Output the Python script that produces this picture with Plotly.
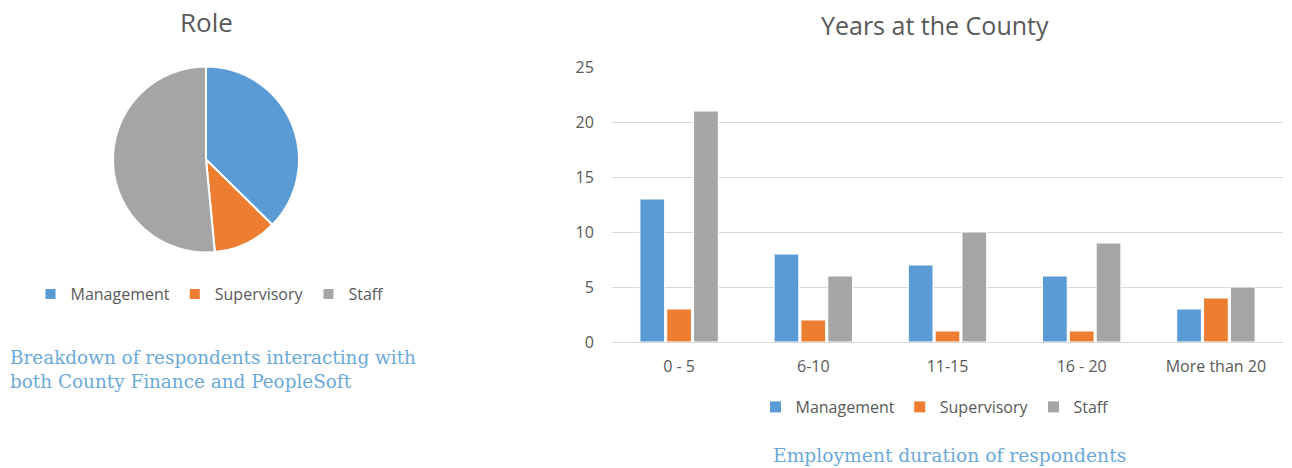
import plotly.graph_objects as go

roles = ["Management", "Supervisory", "Staff"]
role_counts = [37, 11, 51]
colors = ["#5B9BD5", "#ED7D31", "#A5A5A5"]

years = ["0 - 5", "6-10", "11-15", "16 - 20", "More than 20"]
management = [13, 8, 7, 6, 3]
supervisory = [3, 2, 1, 1, 4]
staff = [21, 6, 10, 9, 5]

W, H = 1292, 468
def px(x): return x / W
def py(y): return (H - y) / H

SANS = "'Open Sans', 'DejaVu Sans', sans-serif"
SERIF = "'DejaVu Serif', 'Liberation Serif', serif"
GRAY = "#595959"
CAP = "#6AA9D8"

fig = go.Figure()
fig.add_trace(go.Pie(
    labels=roles, values=role_counts, sort=False, direction="clockwise", rotation=0,
    marker=dict(colors=colors, line=dict(color="white", width=2)),
    textinfo="none", hoverinfo="label+value",
    domain=dict(x=[px(113), px(299)], y=[py(253), py(66)]),
    legend="legend",
))
for name, vals, c in zip(roles, [management, supervisory, staff], colors):
    fig.add_trace(go.Bar(x=years, y=vals, name=name, marker=dict(color=c, line=dict(color="white", width=1)),
                         legend="legend2"))

font_ax = dict(family=SANS, size=16, color=GRAY)
font_lg = dict(family=SANS, size=16, color=GRAY)
fig.update_layout(
    width=W, height=H, margin=dict(l=0, r=0, t=0, b=0, autoexpand=False),
    paper_bgcolor="white", plot_bgcolor="white",
    barmode="group", bargap=0.4, bargroupgap=0.08,
    xaxis=dict(domain=[px(612), px(1283)], showgrid=False, showline=False, ticks="outside",
               ticklen=10, tickcolor="white", tickfont=font_ax, fixedrange=True, automargin=False),
    yaxis=dict(domain=[py(342), py(67)], range=[0, 25], dtick=5, gridcolor="#D9D9D9", gridwidth=1,
               zeroline=True, zerolinecolor="#D9D9D9", zerolinewidth=1, tickfont=font_ax,
               ticks="outside", ticklen=14, tickcolor="white", showline=False, automargin=False,
               fixedrange=True),
    legend=dict(orientation="h", x=px(210), xanchor="center", y=py(294), yanchor="middle",
                font=font_lg, itemwidth=30, bgcolor="rgba(0,0,0,0)"),
    legend2=dict(orientation="h", x=px(935), xanchor="center", y=py(407), yanchor="middle",
                 font=font_lg, itemwidth=30, bgcolor="rgba(0,0,0,0)"),
    annotations=[
        dict(text="Role", x=px(206), y=py(22), xref="paper", yref="paper", showarrow=False,
             xanchor="center", yanchor="middle", font=dict(family=SANS, size=26, color=GRAY)),
        dict(text="Years at the County", x=px(935), y=py(25), xref="paper", yref="paper", showarrow=False,
             xanchor="center", yanchor="middle", font=dict(family=SANS, size=25, color=GRAY)),
        dict(text="Breakdown of respondents interacting with<br>both County Finance and PeopleSoft",
             x=px(8), y=py(369), xref="paper", yref="paper", showarrow=False, align="left",
             xanchor="left", yanchor="middle",
             font=dict(family=SERIF, size=18.4, color=CAP)),
        dict(text="Employment duration of respondents",
             x=px(949), y=py(455), xref="paper", yref="paper", showarrow=False,
             xanchor="center", yanchor="middle",
             font=dict(family=SERIF, size=18.7, color=CAP)),
    ],
)
fig.write_html("out.html")
